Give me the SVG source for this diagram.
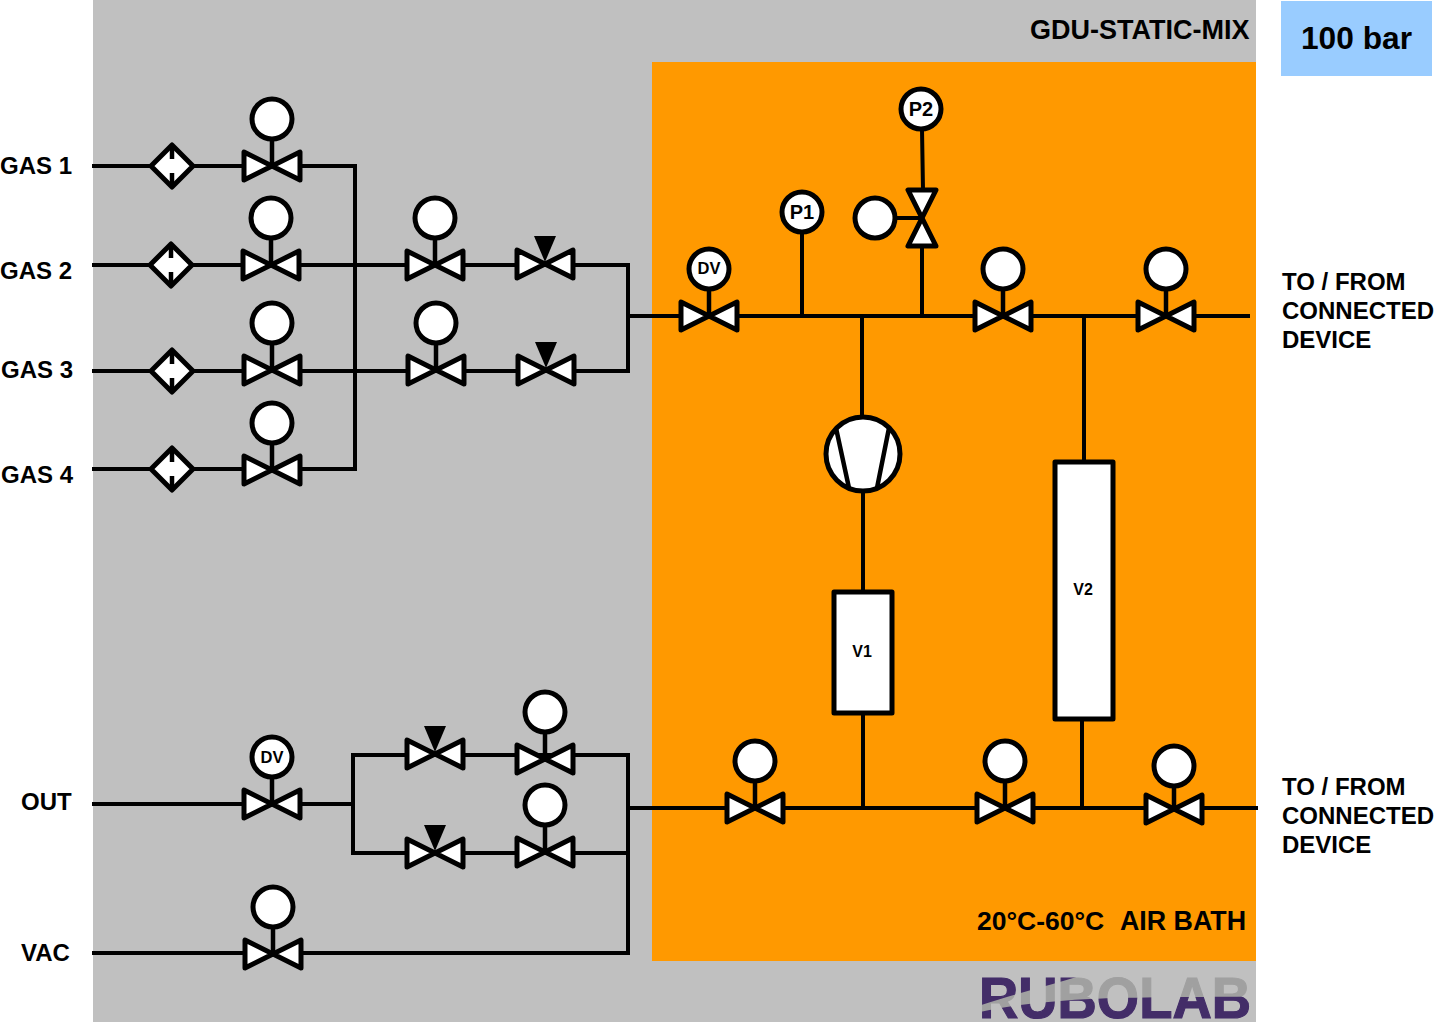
<svg xmlns="http://www.w3.org/2000/svg" width="1434" height="1022" viewBox="0 0 1434 1022">
<style>
text{font-family:"Liberation Sans",Arial,sans-serif;font-weight:bold;fill:#000}
.lbl{font-size:24px}
.gas{font-size:24px}
.tag{font-size:20px;text-anchor:middle}
.dv{font-size:16.5px;text-anchor:middle}
.vol{font-size:16px;text-anchor:middle}
.c{fill:none;stroke:#000;stroke-width:4;stroke-linecap:square;stroke-linejoin:miter}
.s{fill:#fff;stroke:#000;stroke-width:5;stroke-linejoin:round}
.t{fill:none;stroke:#000;stroke-width:4.5}
</style>
<defs>
<g id="valve"><path class="s" d="M0,0L-28,-14V14Z"/><path class="s" d="M0,0L28,-14V14Z"/></g>
<g id="vact"><path class="t" d="M0,0V-27"/><circle class="s" cx="0" cy="-47" r="20"/><use href="#valve"/></g>
<g id="vman"><path d="M-11,-28H11L0,-2Z" fill="#000"/><use href="#valve"/></g>
<g id="filter"><path class="s" d="M0,-21L21,0L0,21L-21,0Z"/><path class="t" d="M0,-18V-7M0,7V18"/></g>
<pattern id="swfill" patternUnits="userSpaceOnUse" x="970" y="960" width="300" height="70">
<rect width="300" height="70" fill="#432d68"/>
<path fill="#a0a0a0" d="M5,47C50,32 90,23 122,12H290V36.500C230,37 160,37 120,39C80,41 40,45 5,53Z"/>
</pattern>
</defs>
<g id="background">
<rect x="93" y="0" width="1163" height="1022" fill="#c0c0c0"/>
<rect x="652" y="62" width="604" height="899" fill="#ff9900"/>
<rect x="1281" y="1" width="151" height="75" fill="#99ccff"/>
</g>
<g id="connectors">
<path class="c" d="M94,166H355V469H94M94,265H628V371H94M94,804H353M353,755V853H628M353,755H628V953H94M630,316H1248M630,808H1256"/>
<path class="c" d="M802,232V316M922,129L923,190M922,246V316M875,218H922M862,316V417M863,491V592M863,713V808M1084,316V462M1082,719V806"/>
</g>
<g id="gas1-filter"><use href="#filter" x="172" y="166"/></g>
<g id="gas2-filter"><use href="#filter" x="171" y="265"/></g>
<g id="gas3-filter"><use href="#filter" x="172" y="371"/></g>
<g id="gas4-filter"><use href="#filter" x="172" y="469"/></g>
<g id="gas1-valve"><use href="#vact" x="272" y="166"/></g>
<g id="gas2-valve"><use href="#vact" x="271" y="265"/></g>
<g id="gas3-valve"><use href="#vact" x="272" y="370"/></g>
<g id="gas4-valve"><use href="#vact" x="272" y="470"/></g>
<g id="in-valve-a"><use href="#vact" x="435" y="265"/></g>
<g id="in-valve-b"><use href="#vact" x="436" y="370"/></g>
<g id="in-man-a"><use href="#vman" x="545" y="264"/></g>
<g id="in-man-b"><use href="#vman" x="546" y="370"/></g>
<g id="dv-in"><use href="#vact" x="709" y="316"/><text class="dv" x="709" y="274">DV</text></g>
<g id="p1"><circle class="s" cx="802" cy="212" r="20"/><text class="tag" x="802" y="219">P1</text></g>
<g id="p2"><circle class="s" cx="921" cy="109" r="20"/><text class="tag" x="921" y="116">P2</text></g>
<g id="side-valve"><circle class="s" cx="875" cy="218" r="20"/><path class="s" d="M922,218L908,190H936Z"/><path class="s" d="M922,218L908,246H936Z"/></g>
<g id="valve-top-1"><use href="#vact" x="1003" y="316"/></g>
<g id="valve-top-2"><use href="#vact" x="1166" y="316"/></g>
<g id="pump"><circle class="s" cx="863" cy="454" r="37"/><path class="t" d="M836,428L849,488M889,428L877,488"/></g>
<g id="v1"><rect class="s" x="834" y="592" width="58" height="121"/><text class="vol" x="862" y="657">V1</text></g>
<g id="v2"><rect class="s" x="1055" y="462" width="58" height="257"/><text class="vol" x="1083" y="595">V2</text></g>
<g id="valve-bot-1"><use href="#vact" x="755" y="808"/></g>
<g id="valve-bot-2"><use href="#vact" x="1005" y="808"/></g>
<g id="valve-bot-3"><path class="t" d="M1174,809V785"/><circle class="s" cx="1174" cy="766" r="20"/><use href="#valve" x="1174" y="809"/></g>
<g id="dv-out"><use href="#vact" x="272" y="804"/><text class="dv" x="272" y="763">DV</text></g>
<g id="out-man-a"><use href="#vman" x="435" y="754"/></g>
<g id="out-man-b"><use href="#vman" x="435" y="853"/></g>
<g id="out-valve-a"><use href="#vact" x="545" y="759"/></g>
<g id="out-valve-b"><use href="#vact" x="545" y="852"/></g>
<g id="vac-valve"><use href="#vact" x="273" y="954"/></g>
<g id="labels">
<text class="gas" x="0" y="174">GAS 1</text>
<text class="gas" x="0" y="279">GAS 2</text>
<text class="gas" x="1" y="378">GAS 3</text>
<text class="gas" x="1" y="483">GAS 4</text>
<text class="gas" x="21" y="810">OUT</text>
<text class="gas" x="21" y="961">VAC</text>
<text class="lbl" x="1282" y="290">TO / FROM</text>
<text class="lbl" x="1282" y="319">CONNECTED</text>
<text class="lbl" x="1282" y="348">DEVICE</text>
<text class="lbl" x="1282" y="795">TO / FROM</text>
<text class="lbl" x="1282" y="824">CONNECTED</text>
<text class="lbl" x="1282" y="853">DEVICE</text>
<text x="1030" y="39" font-size="27px">GDU-STATIC-MIX</text>
<text x="1301" y="49" font-size="31.700px">100 bar</text>
<text x="977" y="930" font-size="26.500px">20°C-60°C</text>
<text x="1120" y="930" font-size="26.800px">AIR BATH</text>
</g>
<g id="logo">
<text x="979" y="1018" font-size="58px" textLength="272" lengthAdjust="spacingAndGlyphs" style="fill:url(#swfill);stroke:url(#swfill);stroke-width:1.2">RUBOLAB</text>
</g>
</svg>
